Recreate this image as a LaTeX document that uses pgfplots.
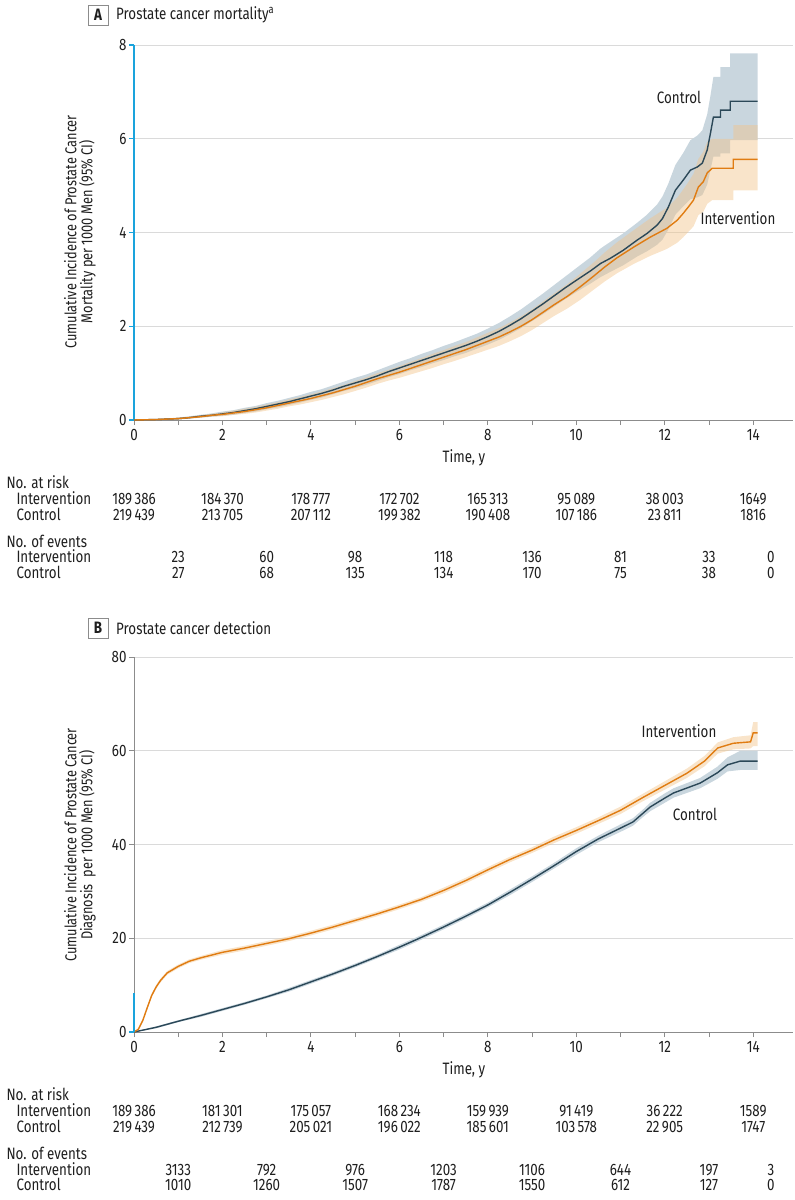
\documentclass[border=0pt]{standalone}
\usepackage{fontspec}
\setmainfont{Fira Sans}[FakeStretch=0.81]
\usepackage{pgfplots}
\pgfplotsset{compat=1.18}
\usepackage{pgfplotstable}
\usepgfplotslibrary{fillbetween}

\definecolor{ctrl}{HTML}{2B4858}
\definecolor{ctrlband}{HTML}{C9D6DE}
\definecolor{intv}{HTML}{E07C12}
\definecolor{intvband}{HTML}{F2C48A}
\definecolor{axisblue}{HTML}{1AA3DC}
\definecolor{axisgray}{HTML}{8C8C8C}
\definecolor{gridgray}{HTML}{DADADA}
\definecolor{txt}{HTML}{1E1E1E}

% panel A: cumulative prostate cancer mortality per 1000 men
\pgfplotstableread{
t c cu cl
0 0 0 0
0.5 0.01 0.02 0.00
1.0 0.03 0.05 0.01
1.25 0.05 0.08 0.03
1.5 0.08 0.11 0.05
1.75 0.10 0.14 0.07
2.0 0.13 0.18 0.09
2.25 0.16 0.21 0.11
2.5 0.20 0.26 0.15
2.75 0.24 0.30 0.18
3.0 0.29 0.36 0.23
3.25 0.34 0.41 0.27
3.5 0.39 0.47 0.32
3.75 0.45 0.53 0.37
4.0 0.51 0.60 0.43
4.25 0.57 0.66 0.48
4.5 0.64 0.74 0.55
4.75 0.72 0.82 0.62
5.0 0.79 0.90 0.68
5.25 0.86 0.97 0.75
5.5 0.94 1.06 0.83
5.75 1.03 1.15 0.91
6.0 1.11 1.24 0.98
6.25 1.19 1.32 1.06
6.5 1.27 1.41 1.13
6.75 1.35 1.49 1.21
7.0 1.43 1.58 1.28
7.25 1.51 1.66 1.36
7.5 1.59 1.75 1.43
7.75 1.68 1.84 1.52
8.0 1.78 1.95 1.61
8.25 1.89 2.07 1.71
8.5 2.02 2.21 1.83
8.75 2.16 2.36 1.96
9.0 2.32 2.53 2.11
9.25 2.48 2.70 2.26
9.5 2.65 2.88 2.42
9.75 2.82 3.06 2.58
10.0 2.98 3.24 2.73
10.32 3.18 3.47 2.91
10.55 3.34 3.66 3.05
10.77 3.45 3.80 3.16
11.06 3.62 3.98 3.30
11.38 3.84 4.21 3.49
11.6 3.98 4.38 3.60
11.83 4.16 4.60 3.74
11.95 4.30 4.77 3.85
12.08 4.54 5.04 4.06
12.24 4.90 5.44 4.38
12.42 5.12 5.70 4.56
12.58 5.33 5.97 4.71
12.74 5.40 6.07 4.75
12.85 5.48 6.18 4.80
12.96 5.76 6.52 5.02
13.03 6.10 6.90 5.32
13.10 6.46 7.32 5.62
13.26 6.46 7.32 5.62
13.26 6.61 7.53 5.69
13.48 6.61 7.53 5.69
13.48 6.80 7.82 5.97
14.10 6.80 7.82 5.97
}\mortctrl

\pgfplotstableread{
t c cu cl
0 0 0 0
0.5 0.01 0.02 0.00
1.0 0.03 0.05 0.01
1.25 0.05 0.07 0.03
1.5 0.07 0.10 0.05
1.75 0.10 0.13 0.07
2.0 0.12 0.16 0.08
2.25 0.15 0.20 0.11
2.5 0.18 0.24 0.13
2.75 0.22 0.28 0.16
3.0 0.26 0.33 0.20
3.25 0.31 0.38 0.24
3.5 0.36 0.44 0.29
3.75 0.41 0.49 0.33
4.0 0.46 0.55 0.38
4.25 0.52 0.61 0.43
4.5 0.58 0.68 0.49
4.75 0.65 0.75 0.55
5.0 0.72 0.83 0.62
5.25 0.80 0.91 0.69
5.5 0.88 1.00 0.77
5.75 0.95 1.07 0.84
6.0 1.02 1.15 0.90
6.25 1.10 1.24 0.97
6.5 1.18 1.32 1.04
6.75 1.26 1.41 1.11
7.0 1.34 1.49 1.19
7.25 1.42 1.58 1.26
7.5 1.50 1.66 1.34
7.75 1.59 1.76 1.42
8.0 1.68 1.86 1.50
8.25 1.77 1.96 1.58
8.5 1.88 2.08 1.68
8.75 2.00 2.21 1.79
9.0 2.14 2.36 1.92
9.25 2.30 2.53 2.07
9.5 2.46 2.70 2.22
9.8 2.64 2.90 2.38
10.1 2.85 3.13 2.57
10.38 3.06 3.35 2.77
10.65 3.27 3.58 2.96
10.92 3.46 3.79 3.13
11.3 3.69 4.05 3.33
11.67 3.90 4.30 3.50
12.05 4.09 4.53 3.65
12.28 4.26 4.74 3.78
12.42 4.41 4.92 3.90
12.53 4.54 5.07 4.01
12.65 4.69 5.25 4.13
12.76 4.97 5.57 4.37
12.87 5.08 5.72 4.44
12.96 5.27 5.93 4.61
13.07 5.37 6.00 4.69
13.55 5.37 6.00 4.69
13.55 5.56 6.29 4.90
14.10 5.56 6.29 4.90
}\mortintv

% panel B: cumulative prostate cancer diagnosis per 1000 men
\pgfplotstableread{
t c cu cl
0 0 0 0
0.5 1.0 1.2 0.8
1.0 2.3 2.5 2.1
1.5 3.5 3.8 3.2
2.0 4.8 5.1 4.5
2.5 6.1 6.4 5.8
3.0 7.5 7.8 7.2
3.5 9.0 9.4 8.6
4.0 10.7 11.1 10.3
4.5 12.4 12.8 12.0
5.0 14.2 14.6 13.8
5.5 16.1 16.5 15.7
6.0 18.1 18.6 17.6
6.5 20.2 20.7 19.7
7.0 22.4 22.9 21.9
7.5 24.7 25.2 24.2
8.0 27.1 27.6 26.6
8.5 29.8 30.4 29.2
9.0 32.6 33.2 32.0
9.5 35.5 36.1 34.9
10.0 38.5 39.2 37.8
10.5 41.2 41.9 40.5
11.0 43.5 44.3 42.7
11.28 44.8 45.6 44.0
11.5 46.6 47.4 45.8
11.67 48.0 48.9 47.1
12.0 49.9 50.9 48.9
12.2 51.0 52.0 50.0
12.8 53.1 54.2 52.0
13.19 55.3 56.6 54.0
13.42 57.0 58.6 55.6
13.71 57.8 60.0 55.9
14.10 57.8 60.0 55.9
}\detctrl

\pgfplotstableread{
t c cu cl
0 0 0 0
0.1 0.6 0.8 0.4
0.2 2.5 2.8 2.2
0.3 5.2 5.6 4.8
0.4 7.8 8.2 7.4
0.5 9.6 10.0 9.2
0.6 11.0 11.4 10.6
0.75 12.6 13.0 12.2
1.0 14.0 14.4 13.6
1.25 15.1 15.5 14.7
1.5 15.8 16.2 15.4
2.0 17.0 17.5 16.5
2.5 17.9 18.4 17.4
3.0 18.9 19.4 18.4
3.5 19.9 20.4 19.4
4.0 21.1 21.6 20.6
4.5 22.4 22.9 21.9
5.0 23.8 24.3 23.3
5.5 25.2 25.7 24.7
6.0 26.7 27.2 26.2
6.5 28.3 28.8 27.8
7.0 30.2 30.8 29.6
7.5 32.3 32.9 31.7
8.0 34.6 35.2 34.0
8.5 36.8 37.4 36.2
9.0 38.8 39.4 38.2
9.5 41.0 41.7 40.3
10.0 43.0 43.7 42.3
10.5 45.1 45.8 44.4
11.0 47.3 48.1 46.5
11.5 50.0 50.8 49.2
12.0 52.6 53.5 51.7
12.5 55.2 56.2 54.2
12.9 57.8 58.9 56.7
13.2 60.6 61.8 59.4
13.55 61.6 62.9 60.3
13.94 61.9 63.3 60.5
14.0 63.8 66.1 61.0
14.10 63.8 66.1 61.0
}\detintv

\pgfplotsset{
  kmbase/.style={
    scale only axis, width=659pt, height=375pt, anchor=south west,
    xmin=0, xmax=14.9, ymin=0,
    axis x line*=bottom, axis y line*=left,
    axis line style={draw=axisgray, line width=0.9pt},
    xtick={0,2,...,14}, minor xtick={1,3,...,13},
    tick style={draw=axisgray, line width=0.9pt},
    tick align=outside, major tick length=5pt, minor tick length=5pt,
    ymajorgrids, grid style={draw=gridgray, line width=0.9pt},
    tick label style={font=\fontsize{16.5}{18}\selectfont, text=txt},
    xticklabel style={yshift=-1pt},
    yticklabel style={xshift=1pt},
    /pgf/number format/assume math mode=true,
    clip=false,
  },
  band/.style={draw=none, forget plot},
}

\newcommand{\fs}{\fontsize{16.5}{16.5}\selectfont}
\newcommand{\ts}{\kern2.4pt}

\begin{document}
\begin{tikzpicture}[every node/.style={text=txt, font=\fs}]

% ---------------- panel A ----------------
\node[draw=axisgray, line width=0.9pt, minimum width=20pt, minimum height=20pt,
      inner sep=0pt, font=\fs\bfseries] at (98pt,-15pt) {A};
\node[anchor=west, inner sep=0pt] at (116pt,-15pt) {Prostate cancer mortality\textsuperscript{a}};
\node[rotate=90, align=center, inner sep=0pt, font=\fontsize{15.8}{16}\selectfont] at (80pt,-232pt)
  {Cumulative Incidence of Prostate Cancer\\Mortality per 1000 Men (95\% CI)};

\begin{axis}[kmbase, at={(134pt,-420pt)}, ymax=8, ytick={0,2,...,8},
  y axis line style={draw=axisblue, line width=1.6pt},
  ytick style={draw=axisblue, line width=1.2pt}]
  \addplot[band, name path=cu] table[x=t, y=cu] {\mortctrl};
  \addplot[band, name path=cl] table[x=t, y=cl] {\mortctrl};
  \addplot[fill=ctrlband, forget plot] fill between[of=cu and cl];
  \addplot[band, name path=iu] table[x=t, y=cu] {\mortintv};
  \addplot[band, name path=il] table[x=t, y=cl] {\mortintv};
  \addplot[fill=intvband, fill opacity=0.45, forget plot] fill between[of=iu and il];
  \addplot[ctrl, line width=1.4pt, mark=none] table[x=t, y=c] {\mortctrl};
  \addplot[intv, line width=1.4pt, mark=none] table[x=t, y=c] {\mortintv};
\end{axis}
\node at (679pt,-97pt) {Control};
\node at (738pt,-218pt) {Intervention};
\node at (464pt,-458pt) {Time, y};

\node[anchor=mid west] at (3pt,-486pt) {No. at risk};
\node[anchor=mid west] at (13pt,-502pt) {Intervention};
\node[anchor=mid west] at (13pt,-518pt) {Control};
\node[anchor=mid west] at (3pt,-545pt) {No. of events};
\node[anchor=mid west] at (13pt,-560pt) {Intervention};
\node[anchor=mid west] at (13pt,-576pt) {Control};
\foreach \t/\n in {0/189\ts386, 2/184\ts370, 4/178\ts777, 6/172\ts702, 8/165\ts313, 10/95\ts089, 12/38\ts003, 14/1649}
  \node[anchor=mid] at ({134pt+44.23pt*\t},-502pt) {\n};
\foreach \t/\n in {0/219\ts439, 2/213\ts705, 4/207\ts112, 6/199\ts382, 8/190\ts408, 10/107\ts186, 12/23\ts811, 14/1816}
  \node[anchor=mid] at ({134pt+44.23pt*\t},-518pt) {\n};
\foreach \t/\n in {1/23, 3/60, 5/98, 7/118, 9/136, 11/81, 13/33, 14.4/0}
  \node[anchor=mid] at ({134pt+44.23pt*\t},-560pt) {\n};
\foreach \t/\n in {1/27, 3/68, 5/135, 7/134, 9/170, 11/75, 13/38, 14.4/0}
  \node[anchor=mid] at ({134pt+44.23pt*\t},-576pt) {\n};

% ---------------- panel B ----------------
\node[draw=axisgray, line width=0.9pt, minimum width=20pt, minimum height=20pt,
      inner sep=0pt, font=\fs\bfseries] at (98pt,-628pt) {B};
\node[anchor=west, inner sep=0pt] at (116pt,-628pt) {Prostate cancer detection};
\node[rotate=90, align=center, inner sep=0pt, font=\fontsize{15.8}{16}\selectfont] at (80pt,-845pt)
  {Cumulative Incidence of Prostate Cancer\\Diagnosis\ \ per 1000 Men (95\% CI)};

\begin{axis}[kmbase, at={(134pt,-1032pt)}, ymax=80, ytick={0,20,...,80}]
  \addplot[band, name path=du] table[x=t, y=cu] {\detctrl};
  \addplot[band, name path=dl] table[x=t, y=cl] {\detctrl};
  \addplot[fill=ctrlband, forget plot] fill between[of=du and dl];
  \addplot[band, name path=eu] table[x=t, y=cu] {\detintv};
  \addplot[band, name path=el] table[x=t, y=cl] {\detintv};
  \addplot[fill=intvband, fill opacity=0.45, forget plot] fill between[of=eu and el];
  \addplot[ctrl, line width=1.4pt, mark=none] table[x=t, y=c] {\detctrl};
  \addplot[intv, line width=1.4pt, mark=none] table[x=t, y=c] {\detintv};
  \draw[axisblue, line width=1.6pt] (axis cs:0,0) -- (axis cs:0,8.3);
  \draw[axisblue, line width=1.2pt] (axis cs:0,0) -- ++(-5pt,0);
\end{axis}
\node at (679pt,-731pt) {Intervention};
\node at (695pt,-814pt) {Control};
\node at (464pt,-1070pt) {Time, y};

\node[anchor=mid west] at (3pt,-1098pt) {No. at risk};
\node[anchor=mid west] at (13pt,-1114pt) {Intervention};
\node[anchor=mid west] at (13pt,-1130pt) {Control};
\node[anchor=mid west] at (3pt,-1157pt) {No. of events};
\node[anchor=mid west] at (13pt,-1173pt) {Intervention};
\node[anchor=mid west] at (13pt,-1188pt) {Control};
\foreach \t/\n in {0/189\ts386, 2/181\ts301, 4/175\ts057, 6/168\ts234, 8/159\ts939, 10/91\ts419, 12/36\ts222, 14/1589}
  \node[anchor=mid] at ({134pt+44.23pt*\t},-1114pt) {\n};
\foreach \t/\n in {0/219\ts439, 2/212\ts739, 4/205\ts021, 6/196\ts022, 8/185\ts601, 10/103\ts578, 12/22\ts905, 14/1747}
  \node[anchor=mid] at ({134pt+44.23pt*\t},-1130pt) {\n};
\foreach \t/\n in {1/3133, 3/792, 5/976, 7/1203, 9/1106, 11/644, 13/197, 14.4/3}
  \node[anchor=mid] at ({134pt+44.23pt*\t},-1173pt) {\n};
\foreach \t/\n in {1/1010, 3/1260, 5/1507, 7/1787, 9/1550, 11/612, 13/127, 14.4/0}
  \node[anchor=mid] at ({134pt+44.23pt*\t},-1188pt) {\n};

\pgfresetboundingbox
\path[use as bounding box] (0,0) rectangle (795pt,-1200pt);
\end{tikzpicture}
\end{document}
